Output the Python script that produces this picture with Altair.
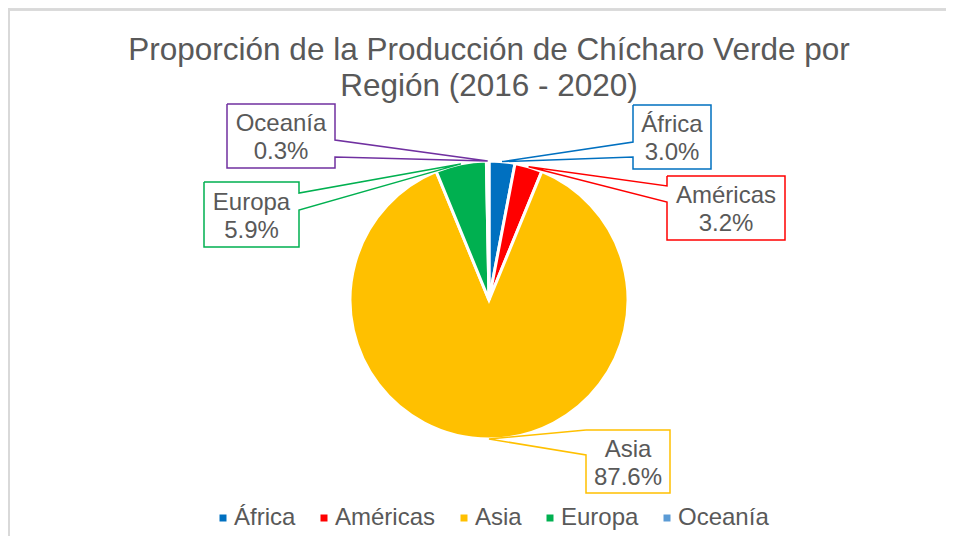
import math
import altair as alt
import pandas as pd

# ---- data ----
REGIONS = ["África", "Américas", "Asia", "Europa", "Oceanía"]
SHARE = [3.0, 3.2, 87.6, 5.9, 0.3]
SLICE_COLORS = ["#0070C0", "#FF0000", "#FFC000", "#00B050", "#5B9BD5"]
LABEL_BORDERS = ["#0070C0", "#FF0000", "#FFC000", "#00B050", "#7030A0"]
TITLE = ["Proporción de la Producción de Chícharo Verde por", "Región (2016 - 2020)"]

# ---- layout (page pixels) ----
OFF = 8
W, H = 938, 528
CX, CY, R = 489 - OFF, 300 - OFF, 139
LABEL_SIZE, LABEL_LH = 24, 28
# label callout boxes: x0, y0, x1, y1, side of the pointer, pointer y top, pointer y bottom
BOXES = {
    "África": (633, 105, 711, 169, "left", 142, 157),
    "Américas": (667, 176, 785, 240, "left", 186, 202),
    "Asia": (586, 430, 670, 493, "left", 430, 455),
    "Europa": (204, 182, 299, 247, "right", 193, 210),
    "Oceanía": (227, 104, 335, 168, "right", 140, 157),
}
GRAY = "#595959"
FONT = "Liberation Sans"

df = pd.DataFrame({"region": REGIONS, "share": SHARE, "idx": range(len(REGIONS)),
                   "border": LABEL_BORDERS})
total = df["share"].sum()
start = df["share"].cumsum() - df["share"]
mid = (start + df["share"] / 2) / total * 2 * math.pi
df["tipx"] = CX + R * mid.apply(math.sin)
df["tipy"] = CY - R * mid.apply(math.cos)
df["label"] = [f"{r}\n{s:.1f}%" for r, s in zip(df["region"], df["share"])]

box_rows, poly_rows = [], []
for _, row in df.iterrows():
    x0, y0, x1, y1, side, a1, a2 = BOXES[row["region"]]
    x0, y0, x1, y1, a1, a2 = (v - OFF for v in (x0, y0, x1, y1, a1, a2))
    box_rows.append({"region": row["region"], "x0": x0, "y0": y0, "x1": x1, "y1": y1,
                     "cx": (x0 + x1) / 2, "ty": (y0 + y1) / 2 - LABEL_LH / 2 + 2,
                     "label": row["label"]})
    tip = (row["tipx"], row["tipy"])
    if side == "right":
        pts = [(x0, y0), (x1, y0), (x1, a1), tip, (x1, a2), (x1, y1), (x0, y1), (x0, y0)]
    else:
        pts = [(x0, y0), (x1, y0), (x1, y1), (x0, y1), (x0, a2), tip, (x0, a1), (x0, y0)]
    for k, (px, py) in enumerate(pts):
        poly_rows.append({"region": row["region"], "seq": k, "px": px, "py": py,
                          "border": row["border"]})
boxes = pd.DataFrame(box_rows)
poly = pd.DataFrame(poly_rows)

xs = alt.Scale(domain=[0, W], range=[0, W], nice=False, zero=False)
ys = alt.Scale(domain=[0, H], range=[0, H], nice=False, zero=False)

pie = alt.Chart(df).mark_arc(stroke="white", strokeWidth=3, outerRadius=R).encode(
    theta=alt.Theta("share:Q", stack=True),
    color=alt.Color(
        "region:N",
        sort=REGIONS,
        scale=alt.Scale(domain=REGIONS, range=SLICE_COLORS),
        legend=alt.Legend(
            orient="none", legendX=203, legendY=498, direction="horizontal", title=None,
            symbolType="square", symbolSize=49, symbolStrokeWidth=0,
            labelFontSize=24, labelFont=FONT, labelColor=GRAY,
            labelOffset=alt.ExprRef(expr="-1"),
            columnPadding=16, labelLimit=0,
        ),
    ),
    order=alt.Order("idx:Q"),
    x=alt.value(CX),
    y=alt.value(CY),
)

box_fill = alt.Chart(boxes).mark_rect(fill="white").encode(
    x=alt.X("x0:Q", scale=xs, axis=None), x2="x1:Q",
    y=alt.Y("y0:Q", scale=ys, axis=None), y2="y1:Q",
)

callouts = alt.Chart(poly).mark_line(strokeWidth=1.5, strokeJoin="miter").encode(
    x=alt.X("px:Q", scale=xs, axis=None),
    y=alt.Y("py:Q", scale=ys, axis=None),
    detail="region:N",
    order="seq:Q",
    stroke=alt.Stroke("border:N", scale=None),
)

labels = alt.Chart(boxes).mark_text(
    lineBreak="\n", fontSize=LABEL_SIZE, lineHeight=LABEL_LH, font=FONT, color=GRAY,
    baseline="middle", align="center",
).encode(
    x=alt.X("cx:Q", scale=xs, axis=None),
    y=alt.Y("ty:Q", scale=ys, axis=None),
    text="label:N",
)

title = alt.Chart(pd.DataFrame({"t": ["\n".join(TITLE)]})).mark_text(
    lineBreak="\n", fontSize=31.5, lineHeight=36, font=FONT, color=GRAY,
    baseline="middle", align="center",
).encode(x=alt.value(CX), y=alt.value(43), text="t:N")

frame_top = alt.Chart(df).mark_rule(color="#D9D9D9", strokeWidth=2).encode(
    x=alt.value(0), x2=alt.value(W), y=alt.value(1.5))
frame_left = alt.Chart(df).mark_rule(color="#D9D9D9", strokeWidth=2).encode(
    x=alt.value(1), y=alt.value(0), y2=alt.value(H))

chart = alt.layer(frame_top, frame_left, pie, box_fill, callouts, labels, title).properties(
    width=W, height=H, padding=0, autosize=alt.AutoSizeParams(type="none"),
    background="white",
).configure_view(stroke=None)

chart.save("out.html", embed_options={"renderer": "svg", "actions": False})
